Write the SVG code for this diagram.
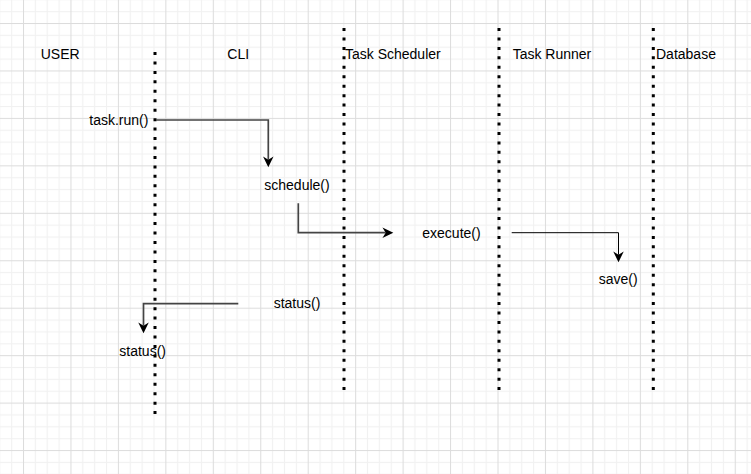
<svg xmlns="http://www.w3.org/2000/svg" width="751" height="474" viewBox="0 0 751 474">
<style>
.lbl{font-family:"Liberation Sans",Arial,sans-serif;font-size:14px;fill:#000}
.life{fill:none;stroke:#000;stroke-width:3;stroke-dasharray:3 6.45}
.msg{fill:none;stroke:#444;stroke-width:1.7}
.msg2{fill:none;stroke:#000;stroke-width:1}
</style>
<defs>
<pattern id="grid" patternUnits="userSpaceOnUse" x="23" y="23" width="47.45" height="47.45">
<rect width="47.45" height="47.45" fill="#fff"/>
<g fill="#f1f1f1">
<rect x="11.86" y="0" width="1" height="47.45"/>
<rect x="23.72" y="0" width="1" height="47.45"/>
<rect x="35.59" y="0" width="1" height="47.45"/>
<rect x="0" y="11.86" width="47.45" height="1"/>
<rect x="0" y="23.72" width="47.45" height="1"/>
<rect x="0" y="35.59" width="47.45" height="1"/>
</g>
<g fill="#dcdcdc">
<rect x="0" y="0" width="1" height="47.45"/>
<rect x="0" y="0" width="47.45" height="1"/>
</g>
</pattern>
<marker id="arr" markerUnits="userSpaceOnUse" markerWidth="12" markerHeight="12" viewBox="0 -5 11 10" refX="3" refY="0" orient="auto" overflow="visible">
<path d="M0,-4.8 L10,0 L0,4.8 L3,0 Z" fill="#000"/>
</marker>
</defs>
<rect width="751" height="474" fill="url(#grid)"/>
<g id="lifelines">
<path class="life" d="M155,52 V417"/>
<path class="life" d="M344,28 V394"/>
<path class="life" d="M499,28 V394"/>
<path class="life" d="M653.3,28 V394"/>
</g>
<g id="node-user"><text class="lbl" x="40.7" y="59">USER</text></g>
<g id="node-cli"><text class="lbl" x="227.3" y="59">CLI</text></g>
<g id="node-scheduler"><text class="lbl" x="345" y="58.5">Task Scheduler</text></g>
<g id="node-runner"><text class="lbl" x="512.7" y="58.5">Task Runner</text></g>
<g id="node-database"><text class="lbl" x="656" y="58.5">Database</text></g>
<g id="node-taskrun"><text class="lbl" x="89.3" y="125">task.run()</text></g>
<g id="node-schedule"><text class="lbl" x="264.3" y="189.5">schedule()</text></g>
<g id="node-execute"><text class="lbl" x="422.3" y="237.7">execute()</text></g>
<g id="node-save"><text class="lbl" x="598.7" y="284">save()</text></g>
<g id="node-status1"><text class="lbl" x="273.7" y="308.3">status()</text></g>
<g id="node-status2"><text class="lbl" x="119.3" y="356">status()</text></g>
<g id="connectors">
<path class="msg" d="M156,120 H268.3 V159.7" marker-end="url(#arr)"/>
<path class="msg" d="M298.3,203.3 V232.7 H385.7" marker-end="url(#arr)"/>
<path class="msg2" d="M511.7,232.7 H618.5 V254.7" marker-end="url(#arr)"/>
<path class="msg" d="M238.3,303.7 H143.5 V325.7" marker-end="url(#arr)"/>
</g>
</svg>
